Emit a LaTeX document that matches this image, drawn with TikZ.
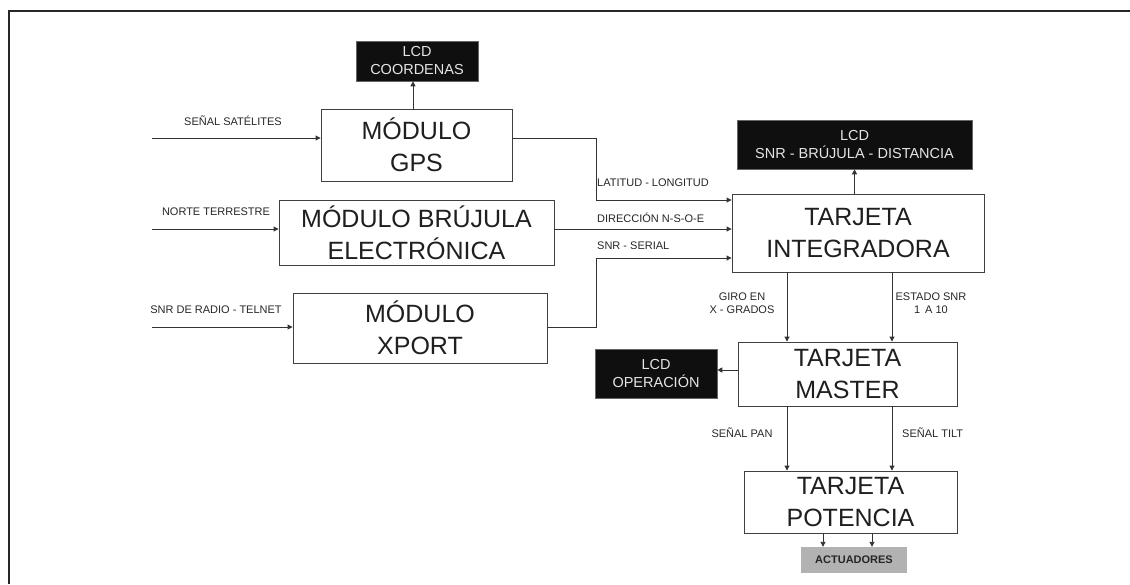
\documentclass[tikz,border=0pt]{standalone}
\usepackage{fontspec}
\setmainfont{Liberation Sans}
\usetikzlibrary{arrows.meta}
\begin{document}
\begin{tikzpicture}[x=1pt,y=-1pt,
  box/.style={draw=black!75, line width=0.9pt, fill=white, inner sep=0pt, font=\fontsize{25}{32}\selectfont, text=black!88, align=center},
  lcd/.style={fill=black!94, draw=black!60, line width=0.6pt, inner sep=0pt, text=black!10, font=\fontsize{14.5}{18}\selectfont, align=center},
  lbl/.style={font=\fontsize{11}{13}\selectfont, text=black!85, inner sep=0pt, align=center},
  conn/.style={draw=black!80, line width=0.9pt},
  arr/.style={conn, -{Triangle[length=5pt,width=5pt]}}
]
\useasboundingbox (0,0) rectangle (1130,584);
\draw[line width=1.6pt, black!85] (9,584) -- (9,11) -- (1130,11);

% boxes
\node[lcd, minimum width=122pt, minimum height=40pt] (lcd1) at (417,61) {LCD\\COORDENAS};
\node[box, minimum width=191pt, minimum height=72pt] (gps) at (416.5,145) {MÓDULO\\GPS};
\node[lcd, minimum width=235pt, minimum height=49pt] (lcd2) at (854.5,144.5) {LCD\\SNR - BRÚJULA - DISTANCIA};
\node[box, minimum width=252pt, minimum height=78pt] (integ) at (858,233) {TARJETA\\INTEGRADORA};
\node[box, minimum width=275pt, minimum height=65pt] (bruj) at (416.5,232.5) {MÓDULO BRÚJULA\\ELECTRÓNICA};
\node[box, minimum width=254pt, minimum height=70pt] (xport) at (420,328) {MÓDULO\\XPORT};
\node[box, minimum width=219pt, minimum height=64pt] (master) at (847.5,374) {TARJETA\\MASTER};
\node[lcd, minimum width=122pt, minimum height=49pt] (lcd3) at (656,373.5) {LCD\\OPERACIÓN};
\node[box, minimum width=213pt, minimum height=62pt] (pot) at (850.5,502) {TARJETA\\POTENCIA};
\node[fill=black!30, inner sep=0pt, minimum width=106pt, minimum height=26pt, font=\fontsize{11}{13}\selectfont\bfseries, text=black!85] (act) at (854,560) {ACTUADORES};

% helper coordinates
\coordinate (s1) at (152,138);
\coordinate (s2) at (152,229);
\coordinate (s3) at (152,327);
\coordinate (j1) at (596,200);
\coordinate (j2) at (596,258);
\coordinate (a1) at (787,0);
\coordinate (a2) at (892,0);
\coordinate (a3) at (0,370);
\coordinate (a4) at (823,0);
\coordinate (a5) at (872,0);
\coordinate (a6) at (413,0);

% connectors
\draw[arr] (gps.north -| a6) -- (lcd1.south -| a6);
\draw[arr] (s1) -- (s1 -| gps.west);
\draw[arr] (s2) -- (s2 -| bruj.west);
\draw[arr] (s3) -- (s3 -| xport.west);
\draw[arr] (gps.east |- s1) -| (j1) -- (j1 -| integ.west);
\draw[arr] (bruj.east |- s2) -- (s2 -| integ.west);
\draw[arr] (xport.east |- s3) -| (j2) -- (j2 -| integ.west);
\draw[arr] (integ.north -| lcd2.south) -- (lcd2.south);
\draw[arr] (integ.south -| a1) -- (master.north -| a1);
\draw[arr] (integ.south -| a2) -- (master.north -| a2);
\draw[arr] (master.west |- a3) -- (lcd3.east |- a3);
\draw[arr] (master.south -| a1) -- (pot.north -| a1);
\draw[arr] (master.south -| a2) -- (pot.north -| a2);
\draw[arr] (pot.south -| a4) -- (act.north -| a4);
\draw[arr] (pot.south -| a5) -- (act.north -| a5);

% labels
\node[lbl] (t1) at (233,121) {SEÑAL SATÉLITES};
\node[lbl] (t2) at (216,212) {NORTE TERRESTRE};
\node[lbl] (t3) at (216,310) {SNR DE RADIO - TELNET};
\node[lbl, anchor=west] (t4) at (597,183) {LATITUD - LONGITUD};
\node[lbl, anchor=west] (t5) at (597,218) {DIRECCIÓN N-S-O-E};
\node[lbl, anchor=west] (t6) at (597,246) {SNR - SERIAL};
\node[lbl] (t7) at (742,303.5) {GIRO EN\\X - GRADOS};
\node[lbl] (t8) at (931,303.5) {ESTADO SNR\\1 \,A 10};
\node[lbl] (t9) at (742,433) {SEÑAL PAN};
\node[lbl, anchor=west] (t10) at (902,433) {SEÑAL TILT};
\end{tikzpicture}
\end{document}
